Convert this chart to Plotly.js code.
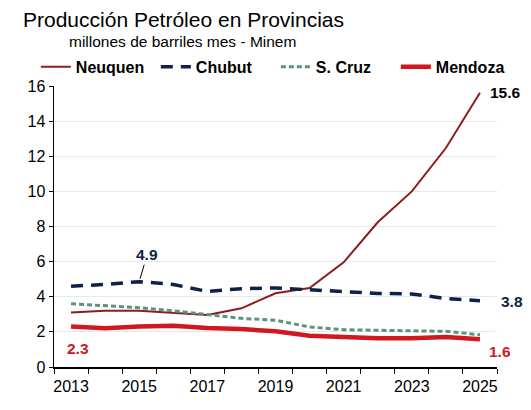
<!DOCTYPE html>
<html>
<head>
<meta charset="utf-8">
<script src="https://cdn.plot.ly/plotly-3.0.1.min.js"></script>
<style>html,body{margin:0;padding:0;background:#fff;}#chart{width:531px;height:410px;}</style>
</head>
<body>
<div id="chart"></div>
<script>
var years = [2013, 2014, 2015, 2016, 2017, 2018, 2019, 2020, 2021, 2022, 2023, 2024, 2025];
var neuquen = [3.1, 3.2, 3.2, 3.1, 2.96, 3.34, 4.2, 4.5, 5.96, 8.24, 10.0, 12.47, 15.62];
var chubut  = [4.6, 4.7, 4.86, 4.7, 4.3, 4.46, 4.5, 4.4, 4.25, 4.19, 4.16, 3.9, 3.77];
var scruz   = [3.6, 3.49, 3.38, 3.2, 3.0, 2.77, 2.66, 2.28, 2.12, 2.08, 2.08, 2.03, 1.84];
var mendoza = [2.31, 2.2, 2.31, 2.35, 2.22, 2.16, 2.03, 1.78, 1.71, 1.63, 1.63, 1.71, 1.58];
var xTickLabels = ['2013', '2015', '2017', '2019', '2021', '2023', '2025'];

var cNeu = '#8E1B1F', cChu = '#0E2247', cScz = '#5A9479', cMen = '#D0181E';
var font = 'Liberation Sans, Arial, sans-serif';

var traces = [
  {x: years, y: neuquen, name: 'Neuquen', mode: 'lines', line: {color: cNeu, width: 2}},
  {x: years, y: chubut, name: 'Chubut', mode: 'lines', line: {color: cChu, width: 3.5, dash: '12px,8px'}},
  {x: years, y: scruz, name: 'S. Cruz', mode: 'lines', line: {color: cScz, width: 3, dash: '5px,3px'}},
  {x: years, y: mendoza, name: 'Mendoza', mode: 'lines', line: {color: cMen, width: 4.5}}
];

var last = years.length - 1;
var iMaxChu = chubut.indexOf(Math.max.apply(null, chubut));

var layout = {
  width: 531, height: 410,
  margin: {l: 54, r: 34, t: 86, b: 43},
  paper_bgcolor: '#fff', plot_bgcolor: '#fff',
  font: {family: font, size: 16, color: '#000'},
  showlegend: true,
  legend: {
    orientation: 'h', x: -0.041, xanchor: 'left', y: 1.068, yanchor: 'middle',
    font: {family: font, size: 16, color: '#000', weight: 'bold'},
    itemwidth: 30, entrywidth: 75, entrywidthmode: 'pixels',
    tracegroupgap: 0, bgcolor: 'rgba(0,0,0,0)'
  },
  xaxis: {
    range: [2012.5, 2025.5], tickmode: 'array',
    tickvals: xTickLabels.map(Number), ticktext: xTickLabels,
    ticks: 'outside', ticklen: 0, tickcolor: '#000',
    showgrid: false, zeroline: false,
    showline: true, linecolor: '#000', linewidth: 1.5,
    tickfont: {family: font, size: 16, color: '#000'},
    ticklabelstandoff: 4,
    minor: {tick0: 2012.5, dtick: 1, ticks: 'outside', ticklen: 5, tickcolor: '#000', showgrid: false},
    fixedrange: true
  },
  yaxis: {
    range: [0, 16], dtick: 2,
    ticks: 'outside', ticklen: 4, tickcolor: '#000',
    showgrid: true, gridcolor: '#E8E8E8', gridwidth: 1, zeroline: false,
    showline: true, linecolor: '#000', linewidth: 1.5,
    tickfont: {family: font, size: 16, color: '#000'},
    fixedrange: true
  },
  annotations: [
    {xref: 'paper', yref: 'paper', x: -0.075, y: 1.238, xanchor: 'left', yanchor: 'middle',
     text: 'Producción Petróleo en Provincias', showarrow: false,
     font: {family: font, size: 21, color: '#000'}},
    {xref: 'paper', yref: 'paper', x: 0.03, y: 1.158, xanchor: 'left', yanchor: 'middle',
     text: 'millones de barriles mes - Minem', showarrow: false,
     font: {family: font, size: 15.5, color: '#000'}},
    {x: years[last], y: neuquen[last], text: neuquen[last].toFixed(1), showarrow: false,
     xanchor: 'left', yanchor: 'middle', xshift: 8, yshift: 0,
     font: {family: font, size: 15.5, color: '#000', weight: 'bold'}},
    {x: years[last], y: chubut[last], text: chubut[last].toFixed(1), showarrow: false,
     xanchor: 'left', yanchor: 'middle', xshift: 19, yshift: -1,
     font: {family: font, size: 15.5, color: cChu, weight: 'bold'}},
    {x: years[last], y: mendoza[last], text: mendoza[last].toFixed(1), showarrow: false,
     xanchor: 'center', yanchor: 'middle', xshift: 20, yshift: -12,
     font: {family: font, size: 15.5, color: cMen, weight: 'bold'}},
    {x: years[0], y: mendoza[0], text: mendoza[0].toFixed(1), showarrow: false,
     xanchor: 'center', yanchor: 'middle', xshift: 7, yshift: -22,
     font: {family: font, size: 15.5, color: cMen, weight: 'bold'}},
    {x: years[iMaxChu], y: chubut[iMaxChu], text: chubut[iMaxChu].toFixed(1), showarrow: true,
     arrowhead: 0, arrowwidth: 1, arrowcolor: '#000', ax: 8, ay: -27, standoff: 3,
     font: {family: font, size: 15.5, color: cChu, weight: 'bold'}}
  ]
};

Plotly.newPlot('chart', traces, layout, {staticPlot: true, displayModeBar: false});
</script>
</body>
</html>
